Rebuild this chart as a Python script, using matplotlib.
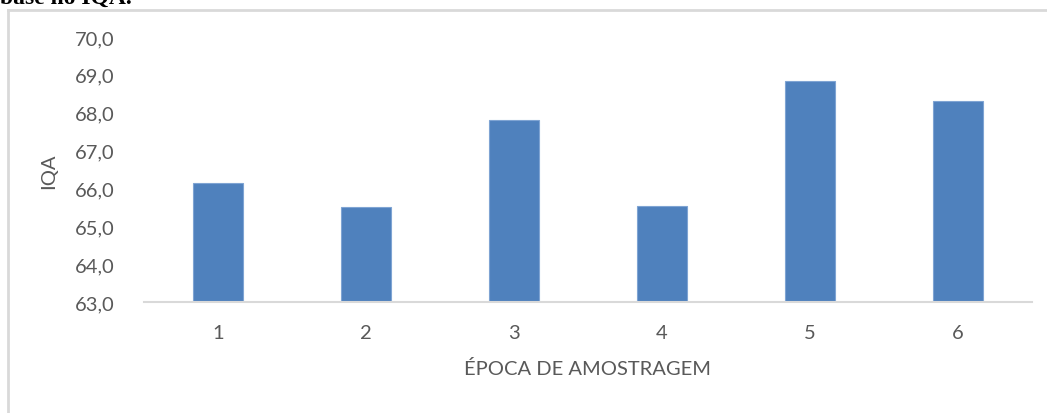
import matplotlib
matplotlib.use("Agg")
import matplotlib.pyplot as plt
from matplotlib.lines import Line2D
from matplotlib.ticker import FuncFormatter

categories = ["1", "2", "3", "4", "5", "6"]
iqa_values = [66.15, 65.50, 67.80, 65.54, 68.84, 68.31]
y_ticks = [63.0, 64.0, 65.0, 66.0, 67.0, 68.0, 69.0, 70.0]

W, H = 1047, 414
fig = plt.figure(figsize=(W / 100, H / 100), dpi=100)
fig.patch.set_facecolor("white")

# chart frame (light gray border, left and top visible)
fig.add_artist(Line2D([8 / W, 8 / W], [0, 1 - 11 / H], transform=fig.transFigure,
                      color="#D9D9D9", lw=2))
fig.add_artist(Line2D([8 / W, 1.01], [1 - 11 / H, 1 - 11 / H], transform=fig.transFigure,
                      color="#D9D9D9", lw=2))

# partially visible document text above the chart
fig.text(0 / W, 1 - 4 / H, "base no IQA.", family="Liberation Serif", weight="bold",
         fontsize=17, color="black", ha="left", va="baseline")

ax = fig.add_axes([144 / W, 1 - 303 / H, (1032 - 144) / W, (303 - 38) / H])
x = list(range(len(categories)))
ax.bar(x, iqa_values, width=0.338, color="#4F81BD", edgecolor="#7FA4D3", linewidth=0.8,
       zorder=2)

ax.set_xlim(-0.5, len(categories) - 0.5)
ax.set_ylim(y_ticks[0], y_ticks[-1])
ax.set_yticks(y_ticks)
ax.yaxis.set_major_formatter(FuncFormatter(lambda v, p: f"{v:.1f}".replace(".", ",")))
ax.set_xticks(x)
ax.set_xticklabels(categories)

for s in ["top", "right", "left"]:
    ax.spines[s].set_visible(False)
ax.spines["bottom"].set_color("#D9D9D9")
ax.spines["bottom"].set_linewidth(1.5)
ax.spines["bottom"].set_zorder(3)

font = "Lato"
fs = 14.5
ax.tick_params(axis="both", length=0, colors="#595959", labelsize=fs)
ax.tick_params(axis="y", pad=21)
ax.tick_params(axis="x", pad=16)
for lab in ax.get_xticklabels() + ax.get_yticklabels():
    lab.set_family(font)

ax.set_xlabel("ÉPOCA DE AMOSTRAGEM", family=font, fontsize=fs, color="#595959", labelpad=13)
ax.set_ylabel("IQA", family=font, fontsize=fs, color="#595959")
ax.yaxis.set_label_coords((57 - 144) / (1032 - 144), (303 - 171) / (303 - 38))

fig.savefig("out.png", dpi=100, facecolor="white")
